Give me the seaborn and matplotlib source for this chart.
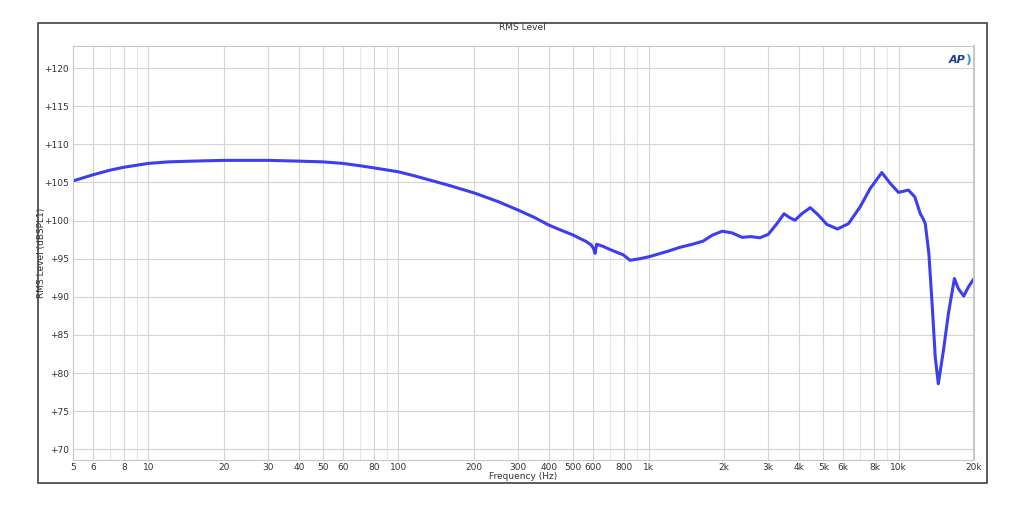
import numpy as np
import pandas as pd
import seaborn as sns
import matplotlib.pyplot as plt
from matplotlib.ticker import FixedLocator, FuncFormatter, NullFormatter
from matplotlib.patches import Rectangle

# Frequency response
freq_hz = [5, 6, 7, 8, 10, 12, 15, 20, 25, 30, 40, 50, 60, 70, 84, 100, 115,
           134, 160, 202, 250, 300, 350, 400, 450, 500, 532, 560, 590, 603,
           611, 620, 660, 702, 793, 843, 925, 1014, 1200, 1336, 1500, 1650,
           1800, 1970, 2150, 2370, 2560, 2790, 3010, 3260, 3480, 3660, 3850,
           4100, 4430, 4780, 5160, 5690, 6300, 7010, 7690, 8560, 9240, 9980,
           10940, 11600, 12200, 12500, 12770, 13200, 13600, 14000, 14400,
           15100, 15800, 16700, 17300, 18200, 19000, 20000]
level_db = [105.2, 106.0, 106.6, 107.0, 107.5, 107.7, 107.8, 107.9, 107.9,
            107.9, 107.8, 107.7, 107.5, 107.2, 106.8, 106.4, 105.9, 105.3,
            104.6, 103.6, 102.5, 101.4, 100.4, 99.4, 98.7, 98.1, 97.65, 97.3,
            96.8, 96.3, 95.7, 96.9, 96.6, 96.2, 95.5, 94.8, 95.0, 95.3, 96.0,
            96.5, 96.9, 97.3, 98.1, 98.6, 98.4, 97.8, 97.9, 97.75, 98.2, 99.6,
            100.9, 100.4, 100.05, 100.9, 101.7, 100.7, 99.5, 98.9, 99.6, 101.8,
            104.2, 106.3, 104.9, 103.7, 104.0, 103.1, 100.9, 100.3, 99.6,
            95.7, 89.1, 82.1, 78.6, 83.0, 87.8, 92.4, 91.1, 90.1, 91.3, 92.4]

x_ticks = [5, 6, 8, 10, 20, 30, 40, 50, 60, 80, 100, 200, 300, 400, 500, 600,
           800, 1000, 2000, 3000, 4000, 5000, 6000, 8000, 10000, 20000]
x_labels = ["5", "6", "8", "10", "20", "30", "40", "50", "60", "80", "100",
            "200", "300", "400", "500", "600", "800", "1k", "2k", "3k", "4k",
            "5k", "6k", "8k", "10k", "20k"]
y_ticks = [70, 75, 80, 85, 90, 95, 100, 105, 110, 115, 120]

df = pd.DataFrame({"freq": freq_hz, "level": level_db})

sns.set_style("white")
plt.rcParams["font.family"] = ["DejaVu Sans"]

fig = plt.figure(figsize=(10.24, 5.12), dpi=100)
fig.patches.append(Rectangle((38 / 1024, 1 - 483 / 512), 949 / 1024, 460 / 512,
                             transform=fig.transFigure, fill=False,
                             edgecolor="#404040", linewidth=1.2))
ax = fig.add_axes([73 / 1024, 1 - 460 / 512, 901 / 1024, 414 / 512])

sns.lineplot(data=df, x="freq", y="level", ax=ax, color="#3d3df2",
             linewidth=2.2, estimator=None, sort=False)

ax.set_xscale("log")
ax.set_xlim(5, 20000)
ax.set_ylim(68.6, 122.9)

ax.xaxis.set_major_locator(FixedLocator(x_ticks))
ax.xaxis.set_major_formatter(FuncFormatter(lambda v, p: x_labels[x_ticks.index(v)] if v in x_ticks else ""))
minor = [m * 10 ** e for e in range(0, 4) for m in (7, 9)]
ax.xaxis.set_minor_locator(FixedLocator(minor))
ax.xaxis.set_minor_formatter(NullFormatter())
ax.yaxis.set_major_locator(FixedLocator(y_ticks))
ax.yaxis.set_major_formatter(FuncFormatter(lambda v, p: f"+{v:.0f}"))

ax.grid(True, which="major", color="#d4d4d4", linewidth=0.8)
ax.grid(True, which="minor", axis="x", color="#e6e6e6", linewidth=0.8)
ax.set_axisbelow(True)
for s in ax.spines.values():
    s.set_color("#c8c8c8")
    s.set_linewidth(0.8)
ax.spines["right"].set_linewidth(1.5)

ax.tick_params(axis="both", which="both", length=0, labelsize=6.5,
               colors="#333333")
ax.tick_params(axis="x", pad=2)
ax.tick_params(axis="y", pad=3)
ax.set_xlabel("Frequency (Hz)", fontsize=6.5, color="#333333")
ax.set_ylabel("RMS Level (dBSPL1)", fontsize=6.5, color="#333333")
ax.xaxis.set_label_coords(0.5, -0.03)
ax.yaxis.set_label_coords(-0.0305, 0.5)
fig.text(522 / 1024, 1 - 28 / 512, "RMS Level", fontsize=6.5, color="#333333",
         ha="center", va="center")

ax.text(0.99, 0.965, "AP", transform=ax.transAxes, ha="right", va="center",
        fontsize=8, fontweight="bold", fontstyle="italic", color="#1d3f8f")
ax.text(0.9975, 0.965, ")", transform=ax.transAxes, ha="right", va="center",
        fontsize=9, fontweight="bold", color="#3a9ad9")

fig.savefig("out.png", dpi=100)
